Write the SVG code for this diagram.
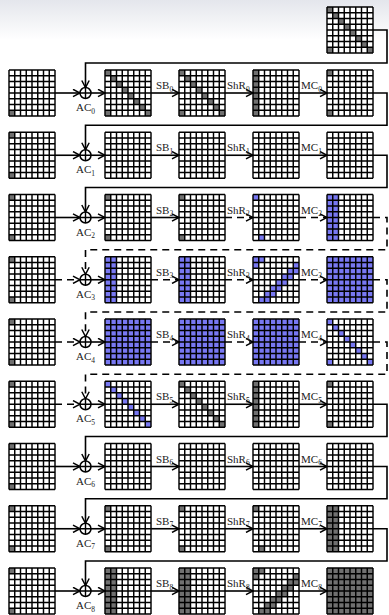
<svg xmlns="http://www.w3.org/2000/svg" xmlns:xlink="http://www.w3.org/1999/xlink" width="389" height="615" viewBox="0 0 389 615">
<style>
.w{fill:#ffffff}
.k{fill:#707070}
.b{fill:#7878f2}
.gl{fill:none;stroke:#000;stroke-width:1.45}
.ln{fill:none;stroke:#000;stroke-width:1.6}
.ds{stroke-dasharray:7 5}
.xr{fill:#fff;stroke:#000;stroke-width:1.5}
.lb{font-family:"Liberation Serif","Times New Roman",serif;font-size:11px;fill:#222}
.sb{font-size:7.5px}
</style>
<defs>
<linearGradient id="bg" x1="0" y1="0" x2="0" y2="1">
<stop offset="0" stop-color="#e4e6ec"/>
<stop offset="1" stop-color="#ffffff"/>
</linearGradient>
<marker id="ar" viewBox="0 0 9 9" refX="8.5" refY="4.5" markerWidth="9" markerHeight="9" markerUnits="userSpaceOnUse" orient="auto">
<path d="M1.5,0.8 L8.5,4.5 L1.5,8.2" fill="none" stroke="#000" stroke-width="1.5" stroke-dasharray="none"/>
</marker>
<path id="gl" class="gl" d="M0 0V46M5.75 0V46M11.5 0V46M17.25 0V46M23 0V46M28.75 0V46M34.5 0V46M40.25 0V46M46 0V46M0 0H46M0 5.75H46M0 11.5H46M0 17.25H46M0 23H46M0 28.75H46M0 34.5H46M0 40.25H46M0 46H46"/>
<rect id="bk" class="w" width="46" height="46"/>
<rect id="c00" width="5.75" height="5.75"/>
<rect id="c70" y="40.25" width="5.75" height="5.75"/>
<rect id="c71" x="5.75" y="40.25" width="5.75" height="5.75"/>
<g id="cor"><use xlink:href="#c00"/><use xlink:href="#c70"/></g>
<g id="dg"><rect width="5.75" height="5.75"/><rect x="5.75" y="5.75" width="5.75" height="5.75"/><rect x="11.5" y="11.5" width="5.75" height="5.75"/><rect x="17.25" y="17.25" width="5.75" height="5.75"/><rect x="23" y="23" width="5.75" height="5.75"/><rect x="28.75" y="28.75" width="5.75" height="5.75"/><rect x="34.5" y="34.5" width="5.75" height="5.75"/><rect x="40.25" y="40.25" width="5.75" height="5.75"/></g>
<rect id="col0" width="5.75" height="46"/>
<rect id="col01" width="11.5" height="46"/>
<rect id="all" width="46" height="46"/>
<g id="band"><rect width="11.5" height="5.75"/><rect y="5.75" width="5.75" height="5.75"/><rect x="40.25" y="5.75" width="5.75" height="5.75"/><rect x="34.5" y="11.5" width="11.5" height="5.75"/><rect x="28.75" y="17.25" width="11.5" height="5.75"/><rect x="23" y="23" width="11.5" height="5.75"/><rect x="17.25" y="28.75" width="11.5" height="5.75"/><rect x="11.5" y="34.5" width="11.5" height="5.75"/><rect x="5.75" y="40.25" width="11.5" height="5.75"/></g>
<g id="xor"><circle class="xr" r="5.5"/><path d="M-5.5 0H5.5M0 -5.5V5.5" stroke="#000" stroke-width="1.4"/></g>
</defs>
<rect width="389" height="615" fill="#fff"/>
<rect width="389" height="40" fill="url(#bg)"/>

<g id="key" transform="translate(327,7)"><use xlink:href="#bk"/><use xlink:href="#dg" class="k"/><use xlink:href="#c70" class="k"/><use xlink:href="#gl"/></g>

<g id="row0" transform="translate(0,70)">
<g id="r0c0" transform="translate(9,0)"><use xlink:href="#bk"/><use xlink:href="#c70" class="k"/><use xlink:href="#gl"/></g>
<g id="r0c1" transform="translate(105,0)"><use xlink:href="#bk"/><use xlink:href="#dg" class="k"/><use xlink:href="#c70" class="k"/><use xlink:href="#gl"/></g>
<g id="r0c2" transform="translate(179,0)"><use xlink:href="#bk"/><use xlink:href="#dg" class="k"/><use xlink:href="#c70" class="k"/><use xlink:href="#gl"/></g>
<g id="r0c3" transform="translate(253,0)"><use xlink:href="#bk"/><use xlink:href="#col0" class="k"/><use xlink:href="#gl"/></g>
<g id="r0c4" transform="translate(327,0)"><use xlink:href="#bk"/><use xlink:href="#cor" class="k"/><use xlink:href="#gl"/></g>
</g>
<g id="row1" transform="translate(0,132.25)">
<g id="r1c0" transform="translate(9,0)"><use xlink:href="#bk"/><use xlink:href="#cor" class="k"/><use xlink:href="#gl"/></g>
<g id="r1c1" transform="translate(105,0)"><use xlink:href="#bk"/><use xlink:href="#gl"/></g>
<g id="r1c2" transform="translate(179,0)"><use xlink:href="#bk"/><use xlink:href="#gl"/></g>
<g id="r1c3" transform="translate(253,0)"><use xlink:href="#bk"/><use xlink:href="#gl"/></g>
<g id="r1c4" transform="translate(327,0)"><use xlink:href="#bk"/><use xlink:href="#gl"/></g>
</g>
<g id="row2" transform="translate(0,194.5)">
<g id="r2c0" transform="translate(9,0)"><use xlink:href="#bk"/><use xlink:href="#cor" class="k"/><use xlink:href="#gl"/></g>
<g id="r2c1" transform="translate(105,0)"><use xlink:href="#bk"/><use xlink:href="#cor" class="k"/><use xlink:href="#gl"/></g>
<g id="r2c2" transform="translate(179,0)"><use xlink:href="#bk"/><use xlink:href="#cor" class="k"/><use xlink:href="#gl"/></g>
<g id="r2c3" transform="translate(253,0)"><use xlink:href="#bk"/><use xlink:href="#c00" class="b"/><use xlink:href="#c71" class="b"/><use xlink:href="#gl"/></g>
<g id="r2c4" transform="translate(327,0)"><use xlink:href="#bk"/><use xlink:href="#col01" class="b"/><use xlink:href="#gl"/></g>
</g>
<g id="row3" transform="translate(0,256.75)">
<g id="r3c0" transform="translate(9,0)"><use xlink:href="#bk"/><use xlink:href="#cor" class="k"/><use xlink:href="#gl"/></g>
<g id="r3c1" transform="translate(105,0)"><use xlink:href="#bk"/><use xlink:href="#col01" class="b"/><use xlink:href="#gl"/></g>
<g id="r3c2" transform="translate(179,0)"><use xlink:href="#bk"/><use xlink:href="#col01" class="b"/><use xlink:href="#gl"/></g>
<g id="r3c3" transform="translate(253,0)"><use xlink:href="#bk"/><use xlink:href="#band" class="b"/><use xlink:href="#gl"/></g>
<g id="r3c4" transform="translate(327,0)"><use xlink:href="#bk"/><use xlink:href="#all" class="b"/><use xlink:href="#gl"/></g>
</g>
<g id="row4" transform="translate(0,319)">
<g id="r4c0" transform="translate(9,0)"><use xlink:href="#bk"/><use xlink:href="#cor" class="k"/><use xlink:href="#gl"/></g>
<g id="r4c1" transform="translate(105,0)"><use xlink:href="#bk"/><use xlink:href="#all" class="b"/><use xlink:href="#gl"/></g>
<g id="r4c2" transform="translate(179,0)"><use xlink:href="#bk"/><use xlink:href="#all" class="b"/><use xlink:href="#gl"/></g>
<g id="r4c3" transform="translate(253,0)"><use xlink:href="#bk"/><use xlink:href="#all" class="b"/><use xlink:href="#gl"/></g>
<g id="r4c4" transform="translate(327,0)"><use xlink:href="#bk"/><use xlink:href="#dg" class="b"/><use xlink:href="#c70" class="b"/><use xlink:href="#gl"/></g>
</g>
<g id="row5" transform="translate(0,381.25)">
<g id="r5c0" transform="translate(9,0)"><use xlink:href="#bk"/><use xlink:href="#cor" class="k"/><use xlink:href="#gl"/></g>
<g id="r5c1" transform="translate(105,0)"><use xlink:href="#bk"/><use xlink:href="#dg" class="b"/><use xlink:href="#gl"/></g>
<g id="r5c2" transform="translate(179,0)"><use xlink:href="#bk"/><use xlink:href="#dg" class="k"/><use xlink:href="#gl"/></g>
<g id="r5c3" transform="translate(253,0)"><use xlink:href="#bk"/><use xlink:href="#col0" class="k"/><use xlink:href="#gl"/></g>
<g id="r5c4" transform="translate(327,0)"><use xlink:href="#bk"/><use xlink:href="#cor" class="k"/><use xlink:href="#gl"/></g>
</g>
<g id="row6" transform="translate(0,443.5)">
<g id="r6c0" transform="translate(9,0)"><use xlink:href="#bk"/><use xlink:href="#cor" class="k"/><use xlink:href="#gl"/></g>
<g id="r6c1" transform="translate(105,0)"><use xlink:href="#bk"/><use xlink:href="#gl"/></g>
<g id="r6c2" transform="translate(179,0)"><use xlink:href="#bk"/><use xlink:href="#gl"/></g>
<g id="r6c3" transform="translate(253,0)"><use xlink:href="#bk"/><use xlink:href="#gl"/></g>
<g id="r6c4" transform="translate(327,0)"><use xlink:href="#bk"/><use xlink:href="#gl"/></g>
</g>
<g id="row7" transform="translate(0,505.75)">
<g id="r7c0" transform="translate(9,0)"><use xlink:href="#bk"/><use xlink:href="#cor" class="k"/><use xlink:href="#gl"/></g>
<g id="r7c1" transform="translate(105,0)"><use xlink:href="#bk"/><use xlink:href="#cor" class="k"/><use xlink:href="#gl"/></g>
<g id="r7c2" transform="translate(179,0)"><use xlink:href="#bk"/><use xlink:href="#cor" class="k"/><use xlink:href="#gl"/></g>
<g id="r7c3" transform="translate(253,0)"><use xlink:href="#bk"/><use xlink:href="#c00" class="k"/><use xlink:href="#c71" class="k"/><use xlink:href="#gl"/></g>
<g id="r7c4" transform="translate(327,0)"><use xlink:href="#bk"/><use xlink:href="#col01" class="k"/><use xlink:href="#gl"/></g>
</g>
<g id="row8" transform="translate(0,568)">
<g id="r8c0" transform="translate(9,0)"><use xlink:href="#bk"/><use xlink:href="#cor" class="k"/><use xlink:href="#gl"/></g>
<g id="r8c1" transform="translate(105,0)"><use xlink:href="#bk"/><use xlink:href="#col01" class="k"/><use xlink:href="#gl"/></g>
<g id="r8c2" transform="translate(179,0)"><use xlink:href="#bk"/><use xlink:href="#col01" class="k"/><use xlink:href="#gl"/></g>
<g id="r8c3" transform="translate(253,0)"><use xlink:href="#bk"/><use xlink:href="#band" class="k"/><use xlink:href="#gl"/></g>
<g id="r8c4" transform="translate(327,0)"><use xlink:href="#bk"/><use xlink:href="#all" class="k"/><use xlink:href="#gl"/></g>
</g>

<g id="connectors">
<polyline class="ln" points="373,30 387,30 387,63 85.5,63 85.5,87.5" marker-end="url(#ar)"/>
<polyline class="ln" points="373,93 387,93 387,125.25 85.5,125.25 85.5,149.75" marker-end="url(#ar)"/>
<polyline class="ln" points="373,155.25 387,155.25 387,187.5 85.5,187.5 85.5,212" marker-end="url(#ar)"/>
<polyline class="ln ds" points="373,217.5 387,217.5 387,249.75 85.5,249.75 85.5,274.25" marker-end="url(#ar)"/>
<polyline class="ln ds" points="373,279.75 387,279.75 387,312 85.5,312 85.5,336.5" marker-end="url(#ar)"/>
<polyline class="ln ds" points="373,342 387,342 387,374.25 85.5,374.25 85.5,398.75" marker-end="url(#ar)"/>
<polyline class="ln" points="373,404.25 387,404.25 387,436.5 85.5,436.5 85.5,461" marker-end="url(#ar)"/>
<polyline class="ln" points="373,466.5 387,466.5 387,498.75 85.5,498.75 85.5,523.25" marker-end="url(#ar)"/>
<polyline class="ln" points="373,528.75 387,528.75 387,561 85.5,561 85.5,585.5" marker-end="url(#ar)"/>

<g id="rc0" transform="translate(0,93)">
<path class="ln" d="M55 0H80" marker-end="url(#ar)"/><use xlink:href="#xor" x="85.5"/>
<path class="ln" d="M91 0H105" marker-end="url(#ar)"/><path class="ln" d="M151 0H179" marker-end="url(#ar)"/><path class="ln" d="M225 0H253" marker-end="url(#ar)"/><path class="ln" d="M299 0H327" marker-end="url(#ar)"/>
</g>
<g id="rc1" transform="translate(0,155.25)">
<path class="ln" d="M55 0H80" marker-end="url(#ar)"/><use xlink:href="#xor" x="85.5"/>
<path class="ln" d="M91 0H105" marker-end="url(#ar)"/><path class="ln" d="M151 0H179" marker-end="url(#ar)"/><path class="ln" d="M225 0H253" marker-end="url(#ar)"/><path class="ln" d="M299 0H327" marker-end="url(#ar)"/>
</g>
<g id="rc2" transform="translate(0,217.5)">
<path class="ln" d="M55 0H80" marker-end="url(#ar)"/><use xlink:href="#xor" x="85.5"/>
<path class="ln" d="M91 0H105" marker-end="url(#ar)"/><path class="ln" d="M151 0H179" marker-end="url(#ar)"/><path class="ln ds" d="M225 0H253" marker-end="url(#ar)"/><path class="ln ds" d="M299 0H327" marker-end="url(#ar)"/>
</g>
<g id="rc3" transform="translate(0,279.75)">
<path class="ln ds" d="M55 0H80" marker-end="url(#ar)"/><use xlink:href="#xor" x="85.5"/>
<path class="ln" d="M91 0H105" marker-end="url(#ar)"/><path class="ln ds" d="M151 0H179" marker-end="url(#ar)"/><path class="ln ds" d="M225 0H253" marker-end="url(#ar)"/><path class="ln ds" d="M299 0H327" marker-end="url(#ar)"/>
</g>
<g id="rc4" transform="translate(0,342)">
<path class="ln ds" d="M55 0H80" marker-end="url(#ar)"/><use xlink:href="#xor" x="85.5"/>
<path class="ln" d="M91 0H105" marker-end="url(#ar)"/><path class="ln ds" d="M151 0H179" marker-end="url(#ar)"/><path class="ln ds" d="M225 0H253" marker-end="url(#ar)"/><path class="ln ds" d="M299 0H327" marker-end="url(#ar)"/>
</g>
<g id="rc5" transform="translate(0,404.25)">
<path class="ln ds" d="M55 0H80" marker-end="url(#ar)"/><use xlink:href="#xor" x="85.5"/>
<path class="ln" d="M91 0H105" marker-end="url(#ar)"/><path class="ln" d="M151 0H179" marker-end="url(#ar)"/><path class="ln" d="M225 0H253" marker-end="url(#ar)"/><path class="ln" d="M299 0H327" marker-end="url(#ar)"/>
</g>
<g id="rc6" transform="translate(0,466.5)">
<path class="ln" d="M55 0H80" marker-end="url(#ar)"/><use xlink:href="#xor" x="85.5"/>
<path class="ln" d="M91 0H105" marker-end="url(#ar)"/><path class="ln" d="M151 0H179" marker-end="url(#ar)"/><path class="ln" d="M225 0H253" marker-end="url(#ar)"/><path class="ln" d="M299 0H327" marker-end="url(#ar)"/>
</g>
<g id="rc7" transform="translate(0,528.75)">
<path class="ln" d="M55 0H80" marker-end="url(#ar)"/><use xlink:href="#xor" x="85.5"/>
<path class="ln" d="M91 0H105" marker-end="url(#ar)"/><path class="ln" d="M151 0H179" marker-end="url(#ar)"/><path class="ln" d="M225 0H253" marker-end="url(#ar)"/><path class="ln" d="M299 0H327" marker-end="url(#ar)"/>
</g>
<g id="rc8" transform="translate(0,591)">
<path class="ln" d="M55 0H80" marker-end="url(#ar)"/><use xlink:href="#xor" x="85.5"/>
<path class="ln" d="M91 0H105" marker-end="url(#ar)"/><path class="ln" d="M151 0H179" marker-end="url(#ar)"/><path class="ln" d="M225 0H253" marker-end="url(#ar)"/><path class="ln" d="M299 0H327" marker-end="url(#ar)"/>
</g>
</g>

<g id="labels" class="lb">
<g transform="translate(0,93)"><text x="156" y="-4">SB<tspan class="sb" dy="2.5">0</tspan></text><text x="227" y="-4">ShR<tspan class="sb" dy="2.5">0</tspan></text><text x="301" y="-4">MC<tspan class="sb" dy="2.5">0</tspan></text><text x="76" y="18">AC<tspan class="sb" dy="2.5">0</tspan></text></g>
<g transform="translate(0,155.25)"><text x="156" y="-4">SB<tspan class="sb" dy="2.5">1</tspan></text><text x="227" y="-4">ShR<tspan class="sb" dy="2.5">1</tspan></text><text x="301" y="-4">MC<tspan class="sb" dy="2.5">1</tspan></text><text x="76" y="18">AC<tspan class="sb" dy="2.5">1</tspan></text></g>
<g transform="translate(0,217.5)"><text x="156" y="-4">SB<tspan class="sb" dy="2.5">2</tspan></text><text x="227" y="-4">ShR<tspan class="sb" dy="2.5">2</tspan></text><text x="301" y="-4">MC<tspan class="sb" dy="2.5">2</tspan></text><text x="76" y="18">AC<tspan class="sb" dy="2.5">2</tspan></text></g>
<g transform="translate(0,279.75)"><text x="156" y="-4">SB<tspan class="sb" dy="2.5">3</tspan></text><text x="227" y="-4">ShR<tspan class="sb" dy="2.5">3</tspan></text><text x="301" y="-4">MC<tspan class="sb" dy="2.5">3</tspan></text><text x="76" y="18">AC<tspan class="sb" dy="2.5">3</tspan></text></g>
<g transform="translate(0,342)"><text x="156" y="-4">SB<tspan class="sb" dy="2.5">4</tspan></text><text x="227" y="-4">ShR<tspan class="sb" dy="2.5">4</tspan></text><text x="301" y="-4">MC<tspan class="sb" dy="2.5">4</tspan></text><text x="76" y="18">AC<tspan class="sb" dy="2.5">4</tspan></text></g>
<g transform="translate(0,404.25)"><text x="156" y="-4">SB<tspan class="sb" dy="2.5">5</tspan></text><text x="227" y="-4">ShR<tspan class="sb" dy="2.5">5</tspan></text><text x="301" y="-4">MC<tspan class="sb" dy="2.5">5</tspan></text><text x="76" y="18">AC<tspan class="sb" dy="2.5">5</tspan></text></g>
<g transform="translate(0,466.5)"><text x="156" y="-4">SB<tspan class="sb" dy="2.5">6</tspan></text><text x="227" y="-4">ShR<tspan class="sb" dy="2.5">6</tspan></text><text x="301" y="-4">MC<tspan class="sb" dy="2.5">6</tspan></text><text x="76" y="18">AC<tspan class="sb" dy="2.5">6</tspan></text></g>
<g transform="translate(0,528.75)"><text x="156" y="-4">SB<tspan class="sb" dy="2.5">7</tspan></text><text x="227" y="-4">ShR<tspan class="sb" dy="2.5">7</tspan></text><text x="301" y="-4">MC<tspan class="sb" dy="2.5">7</tspan></text><text x="76" y="18">AC<tspan class="sb" dy="2.5">7</tspan></text></g>
<g transform="translate(0,591)"><text x="156" y="-4">SB<tspan class="sb" dy="2.5">8</tspan></text><text x="227" y="-4">ShR<tspan class="sb" dy="2.5">8</tspan></text><text x="301" y="-4">MC<tspan class="sb" dy="2.5">8</tspan></text><text x="76" y="18">AC<tspan class="sb" dy="2.5">8</tspan></text></g>
</g>
</svg>
